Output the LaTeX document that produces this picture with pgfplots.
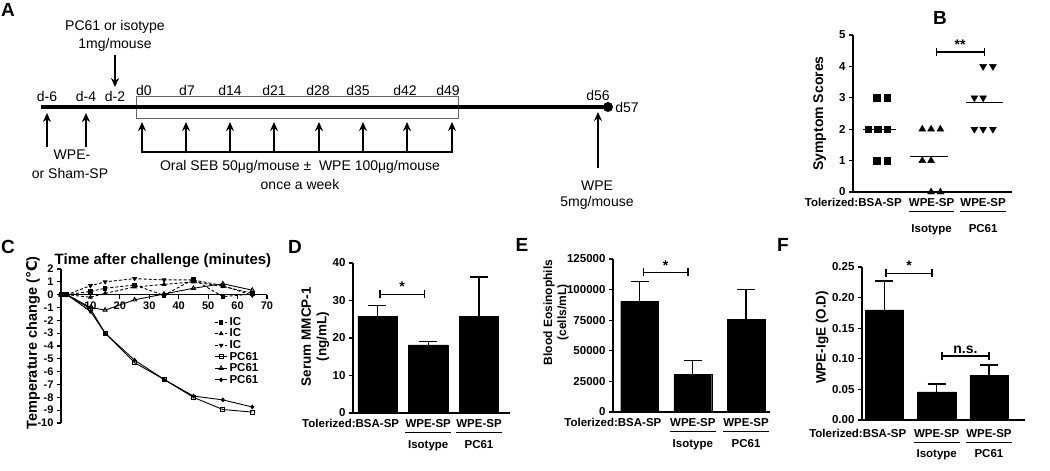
\documentclass[border=0pt]{standalone}
\usepackage{pgfplots}
\pgfplotsset{compat=1.18}
\usepackage{fontspec}
\setmainfont{Liberation Sans}
\newfontfamily\dejavu{DejaVu Sans}
\usetikzlibrary{arrows.meta}

\newcommand{\tfont}{\fontsize{11.5}{13}\selectfont\bfseries}
% significance bracket: x1, x2, xmid, y, text
\newcommand{\sig}[5]{%
  \draw[line width=1.2pt] ([yshift=-4pt]axis cs:#1,#4) -- ([yshift=4pt]axis cs:#1,#4)
    (axis cs:#1,#4) -- (axis cs:#2,#4)
    ([yshift=-4pt]axis cs:#2,#4) -- ([yshift=4pt]axis cs:#2,#4);
  \node[above=2pt, inner sep=0pt, font=\fontsize{14}{14}\selectfont\bfseries] at (axis cs:#3,#4) {#5};}
% group label under a bar: x, lower text, baseline offset, gap to second line
\newcommand{\grp}[4]{%
  \node[anchor=base, inner sep=0pt, font=\tfont] (g) at ([yshift=-#3]axis cs:#1,0) {WPE-SP};
  \draw[line width=1pt] ([yshift=-5.5pt]g.base west) -- ([yshift=-5.5pt]g.base east);
  \node[anchor=base, inner sep=0pt, font=\tfont] at ([yshift=-#4]g.base) {#2};}
\newcommand{\xlabs}[2]{%
  \node[anchor=base, inner sep=0pt, font=\tfont] at ([yshift=-#1]axis cs:1,0) {\llap{Tolerized:}BSA-SP};
  \grp{2}{Isotype}{#1}{#2}
  \grp{3}{PC61}{#1}{#2}}

\pgfplotsset{
  panel/.style={scale only axis, anchor=south west, axis lines=left,
    axis line style={line width=1.6pt,-}, clip mode=individual,
    tick style={line width=1.3pt,black}, tick align=outside, major tick length=4pt,
    xtick=\empty, tick label style={font=\tfont},
    /pgf/number format/assume math mode=true,
    ylabel style={font=\fontsize{13.5}{15.5}\selectfont\bfseries, anchor=center, align=center}},
  bars/.style={ybar, bar shift=0pt, fill=black, draw=black,
    error bars/y dir=plus, error bars/y explicit,
    error bars/error bar style={line width=1.3pt, black},
    error bars/error mark options={rotate=90, mark size=9pt, line width=1.3pt, black}},
}

\begin{document}
\begin{tikzpicture}
\useasboundingbox (0pt,0pt) rectangle (1050pt,-471pt);
\fill[white] (0pt,0pt) rectangle (1050pt,-471pt);

% ---------- A: protocol timeline
\begin{scope}[x=1pt, y=-1pt, font=\fontsize{14}{16}\selectfont]
\tikzset{arr/.style={line width=2.4pt, -{Stealth[length=9pt, width=8pt]}}}
\draw[line width=0.8pt, black!60] (136,96) rectangle (458,118);
\draw[line width=4pt] (41,107) -- (608,107);
\fill (608,107) circle (5pt);
\node at (115,27) {PC61 or isotype};
\node at (115,45) {1mg/mouse};
\draw[arr] (115,55) -- (115,87);
\foreach \x/\t in {47/d-6, 86/d-4, 115/d-2} \node at (\x,96) {\t};
\foreach \x/\t in {144/d0, 187/d7, 230/d14, 274/d21, 318/d28, 358/d35, 405/d42, 448/d49}
  \node at (\x,90) {\t};
\node at (598,95) {d56};
\node at (627,107) {d57};
\draw[arr] (47,147) -- (47,113);
\draw[arr] (86,147) -- (86,113);
\node at (72,155) {WPE-};
\node at (70,173) {or Sham-SP};
\draw[line width=2.4pt] (142,152) -- (452,152);
\foreach \x in {142,186,230,274,319,363,407,452} \draw[arr] (\x,153) -- (\x,122);
\node at (300,167) {Oral SEB 50μg/mouse ±\ \ WPE 100μg/mouse};
\node at (300,184) {once a week};
\draw[arr] (598,168) -- (598,112);
\node at (597,186) {WPE};
\node at (597,203) {5mg/mouse};
\end{scope}

% panel letters
\begin{scope}[x=1pt, y=-1pt, font=\fontsize{19}{19}\selectfont\bfseries]
\node at (8,10) {A};
\node at (940,18) {B};
\node at (8,247) {C};
\node at (295,247) {D};
\node at (522,245) {E};
\node at (783,245) {F};
\end{scope}

% ---------- B: symptom scores
\begin{axis}[panel, at={(853pt,-192pt)}, width=159pt, height=157pt,
  xmin=0.476, xmax=3.56, ymin=0, ymax=5, ytick={0,1,...,5},
  ylabel={Symptom Scores},
  ylabel style={at={(axis description cs:-0.21,0.5)}, font=\fontsize{14}{16}\selectfont\bfseries}]
\addplot[only marks, mark=square*, mark size=3.3pt] coordinates {
  (0.94,3) (1.14,3) (0.77,2) (0.96,2) (1.14,2) (0.94,1) (1.14,1)};
\addplot[only marks, mark=triangle*, mark size=4pt] coordinates {
  (1.82,2) (1.99,2) (2.17,2) (1.82,1) (1.99,1) (1.99,0) (2.17,0)};
\addplot[only marks, mark=triangle*, mark size=4pt, mark options={rotate=180}] coordinates {
  (3.0,4) (3.19,4) (2.83,3) (3.0,3) (2.83,2) (3.0,2) (3.19,2)};
\addplot[line width=1.3pt] coordinates {(0.67,2) (1.31,2)};
\addplot[line width=1.3pt] coordinates {(1.58,1.14) (2.32,1.14)};
\addplot[line width=1.3pt] coordinates {(2.67,2.86) (3.39,2.86)};
\sig{2.09}{3.02}{2.555}{4.46}{**}
\xlabs{14pt}{26pt}
\end{axis}

% ---------- C: temperature change
\begin{axis}[scale only axis, anchor=south west, at={(61pt,-423pt)},
  width=206pt, height=154pt, xmin=0, xmax=70, ymin=-10, ymax=2,
  axis y line=left, axis x line=middle, axis line style={line width=1.6pt,-},
  xtick={10,20,...,70}, ytick={-10,-9,...,2},
  tick style={line width=1.2pt,black}, tick align=outside, major tick length=4pt,
  tick label style={font=\fontsize{11}{12}\selectfont\bfseries},
  /pgf/number format/assume math mode=true,
  title={Time after challenge (minutes)},
  title style={at={(axis description cs:0.495,1.013)}, anchor=center,
    font=\fontsize{15}{17}\selectfont\bfseries},
  ylabel={Temperature change ({\dejavu ℃})},
  ylabel style={at={(axis description cs:-0.136,0.52)}, anchor=center,
    font=\fontsize{14.5}{16}\selectfont\bfseries},
  legend style={at={(axis description cs:0.745,0.7)}, anchor=north west,
    draw=none, fill=none, font=\fontsize{11.5}{11.5}\selectfont\bfseries,
    row sep=-2pt, inner sep=0pt},
  legend cell align=left,
  legend image code/.code={\draw[mark repeat=2, mark phase=2, #1]
    plot coordinates {(0pt,0pt) (6pt,0pt) (12pt,0pt)};}]
\addplot[black, line width=0.9pt, dash pattern=on 3pt off 2pt, mark=square*, mark size=1.8pt,
  mark options={solid}] coordinates {
  (0,0) (2,0) (10,0.25) (15,0.5) (25,0.75) (35,-0.05) (45,1.2) (55,-0.15) (65,0.05)};
\addlegendentry{IC}
\addplot[black, line width=0.9pt, dash pattern=on 3pt off 2pt, mark=triangle*, mark size=2pt,
  mark options={solid}] coordinates {
  (0,0) (2,0) (10,-0.2) (15,0.1) (25,0.6) (35,0.8) (45,1.0) (55,0.65) (65,0.1)};
\addlegendentry{IC}
\addplot[black, line width=0.9pt, dash pattern=on 3pt off 2pt, mark=triangle*, mark size=2pt,
  mark options={solid, rotate=180}] coordinates {
  (0,0) (2,0) (10,0.7) (15,1.0) (25,1.25) (35,1.15) (45,1.15) (55,0.7) (65,-0.05)};
\addlegendentry{IC}
\addplot[black, line width=0.9pt, mark=square, mark size=2pt] coordinates {
  (0,0) (2,0) (10,-1.1) (15,-3.0) (25,-5.3) (35,-6.6) (45,-8.0) (55,-8.95) (65,-9.15)};
\addlegendentry{PC61}
\addplot[black, line width=0.9pt, mark=triangle, mark size=2.4pt] coordinates {
  (0,0) (2,0) (10,-1.0) (15,-1.2) (25,-0.4) (35,0.05) (45,0.5) (55,0.85) (65,0.35)};
\addlegendentry{PC61}
\addplot[black, line width=0.9pt, mark=diamond*, mark size=1.8pt] coordinates {
  (0,0) (2,0) (10,-1.3) (15,-3.0) (25,-5.1) (35,-6.6) (45,-7.9) (55,-8.2) (65,-8.75)};
\addlegendentry{PC61}
\end{axis}

% ---------- D: serum MMCP-1
\begin{axis}[panel, at={(353pt,-413pt)}, width=157pt, height=150pt,
  xmin=0.52, xmax=3.61, ymin=0, ymax=40, ytick={0,10,...,40},
  ylabel={Serum MMCP-1\\(ng/mL)}, ylabel style={at={(axis description cs:-0.24,0.51)}}]
\addplot[bars, bar width=0.77] coordinates {
  (1,25.8) +- (0,2.8) (2,18.2) +- (0,0.9) (3,25.8) +- (0,10.5)};
\sig{1.05}{1.92}{1.485}{31.7}{*}
\xlabs{14pt}{21.5pt}
\end{axis}

% ---------- E: blood eosinophils
\begin{axis}[panel, at={(613pt,-412pt)}, width=157pt, height=153pt,
  xmin=0.50, xmax=3.45, ymin=0, ymax=125000,
  ytick={0,25000,50000,75000,100000,125000}, scaled y ticks=false,
  yticklabel style={/pgf/number format/.cd, fixed, 1000 sep={}},
  ylabel={Blood Eosinophils\\(cells/mL)},
  ylabel style={at={(axis description cs:-0.363,0.65)}, font=\fontsize{12}{14}\selectfont\bfseries}]
\addplot[bars, bar width=0.71] coordinates {
  (1,90500) +- (0,16000) (2,30500) +- (0,11500) (3,75500) +- (0,24300)};
\sig{1.07}{1.91}{1.49}{114000}{*}
\xlabs{14pt}{21pt}
\end{axis}

% ---------- F: WPE-IgE
\begin{axis}[panel, at={(862pt,-420pt)}, width=163pt, height=153pt,
  xmin=0.57, xmax=3.69, ymin=0, ymax=0.25,
  ytick={0,0.05,0.1,0.15,0.2,0.25},
  yticklabel style={/pgf/number format/.cd, fixed, fixed zerofill, precision=2},
  ylabel={WPE-IgE (O.D)}, ylabel style={at={(axis description cs:-0.245,0.54)}}]
\addplot[bars, bar width=0.73] coordinates {
  (1,0.180) +- (0,0.047) (2,0.046) +- (0,0.013) (3,0.073) +- (0,0.017)};
\sig{1.03}{1.91}{1.47}{0.240}{*}
\sig{2.10}{3.00}{2.55}{0.1046}{n.s.}
\xlabs{17pt}{20pt}
\end{axis}
\end{tikzpicture}
\end{document}
